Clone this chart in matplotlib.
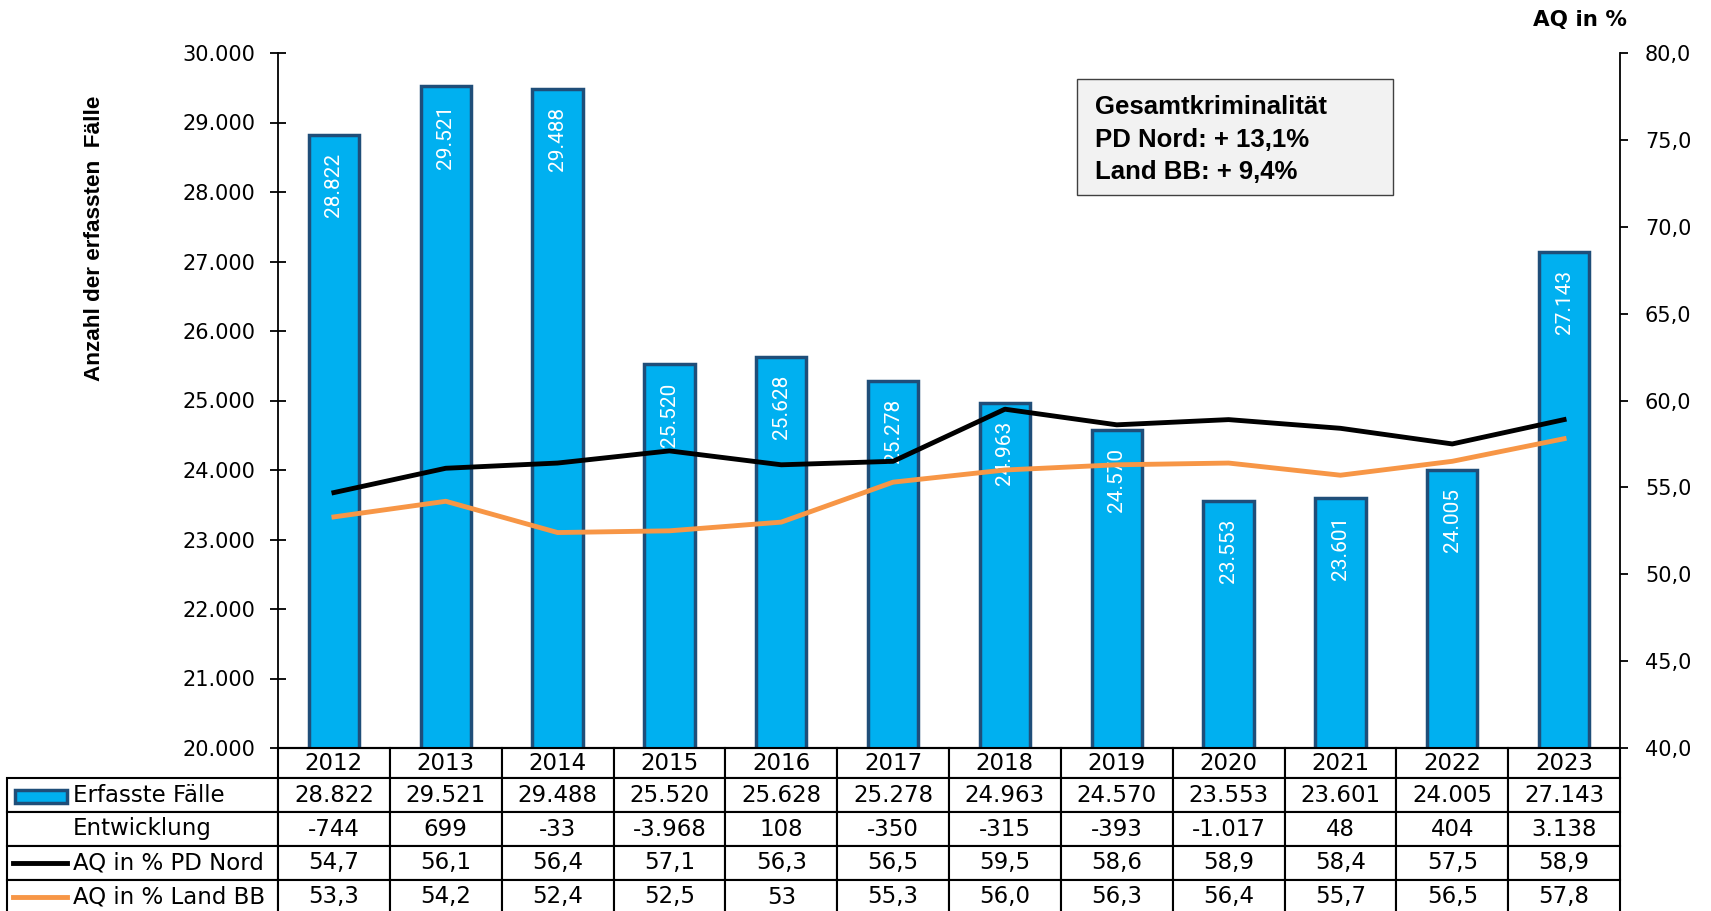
import matplotlib
matplotlib.use("Agg")
import matplotlib.pyplot as plt
from matplotlib.table import Table
from matplotlib.patches import Rectangle
from matplotlib.lines import Line2D
from matplotlib.ticker import FuncFormatter, MultipleLocator

# data
years = [2012, 2013, 2014, 2015, 2016, 2017, 2018, 2019, 2020, 2021, 2022, 2023]
faelle = [28822, 29521, 29488, 25520, 25628, 25278, 24963, 24570, 23553, 23601, 24005, 27143]
entwicklung = [-744, 699, -33, -3968, 108, -350, -315, -393, -1017, 48, 404, 3138]
aq_nord = [54.7, 56.1, 56.4, 57.1, 56.3, 56.5, 59.5, 58.6, 58.9, 58.4, 57.5, 58.9]
aq_land = [53.3, 54.2, 52.4, 52.5, 53, 55.3, 56.0, 56.3, 56.4, 55.7, 56.5, 57.8]
box_lines = ["Gesamtkriminalität", "PD Nord: + 13,1%", "Land BB: + 9,4%"]

BAR_BLUE = "#00B0F0"
BAR_EDGE = "#1F4E79"
ORANGE = "#F79646"

plt.rcParams["font.family"] = ["DejaVu Sans"]


def fmt_int(v):
    return f"{v:,}".replace(",", ".")


def fmt_pct(v):
    # values given without decimals in the source table stay that way
    if isinstance(v, int):
        return str(v)
    return f"{v:.1f}".replace(".", ",")


W, H = 1711, 911
fig = plt.figure(figsize=(W / 100, H / 100), dpi=100)

# plot area in pixels
L, R, T, B = 278, 1620, 53, 748
ax = fig.add_axes([L / W, 1 - B / H, (R - L) / W, (B - T) / H])
ax2 = ax.twinx()


def px_ax(xp, yp):
    return (xp - L) / (R - L), (B - yp) / (B - T)


x = list(range(len(years)))
ax.bar(x, faelle, width=0.45, color=BAR_BLUE, edgecolor=BAR_EDGE,
       linewidth=2.5, zorder=2)
ax.set_xlim(-0.5, len(years) - 0.5)
ax.set_ylim(20000, 30000)
ax.yaxis.set_major_locator(MultipleLocator(1000))
ax.yaxis.set_major_formatter(FuncFormatter(lambda v, p: fmt_int(int(v))))
ax.set_xticks([])
ax.tick_params(axis="y", direction="inout", length=11, width=1.3,
               labelsize=15, pad=11)
for s in ["top", "right"]:
    ax.spines[s].set_visible(False)
ax.spines["left"].set_linewidth(1.3)
ax.spines["bottom"].set_linewidth(1.5)

for xi, v in zip(x, faelle):
    ax.annotate(fmt_int(v), (xi, v), xytext=(0, -13), textcoords="offset points",
                rotation=90, ha="center", va="top", color="white",
                fontsize=15, family="Roboto", zorder=3)

# percentage lines on the right axis
ax2.plot(x, aq_nord, color="black", lw=3.5)
ax2.plot(x, aq_land, color=ORANGE, lw=3.5)
ax2.set_ylim(40, 80)
ax2.yaxis.set_major_locator(MultipleLocator(5))
ax2.yaxis.set_major_formatter(FuncFormatter(lambda v, p: fmt_pct(float(v))))
ax2.tick_params(axis="y", direction="out", length=6, width=1.3,
                labelsize=15, pad=12)
for s in ["top", "left", "bottom"]:
    ax2.spines[s].set_visible(False)
ax2.spines["right"].set_linewidth(1.3)

# data table below the chart
tab_left, tab_bottom = 7, 914
x0, y0 = px_ax(tab_left, tab_bottom)
tab = Table(ax, bbox=[x0, y0, 1 - x0, -y0])
lab_w = L - tab_left
col_w = (R - L) / len(years)
rows = [
    ("Erfasste Fälle", [fmt_int(v) for v in faelle]),
    ("Entwicklung", [fmt_int(v) for v in entwicklung]),
    ("AQ in % PD Nord", [fmt_pct(v) for v in aq_nord]),
    ("AQ in % Land BB", [fmt_pct(v) for v in aq_land]),
]
for j, yr in enumerate(years):
    tab.add_cell(0, j + 1, col_w, 30, text=str(yr), loc="center")
for i, (lab, vals) in enumerate(rows, start=1):
    c = tab.add_cell(i, 0, lab_w, 34, text=lab, loc="left")
    c.PAD = 66 / lab_w
    for j, v in enumerate(vals):
        tab.add_cell(i, j + 1, col_w, 34, text=v, loc="center")
tab.auto_set_font_size(False)
tab.set_fontsize(16.5)
for c in tab.get_celld().values():
    c.set_linewidth(1.5)
    c.get_text().set_family("DejaVu Sans")
ax.add_table(tab)

# legend keys in the row labels
rx, ry = px_ax(15, 803)
rx2, ry2 = px_ax(67, 790)
ax.add_patch(Rectangle((rx, ry), rx2 - rx, ry2 - ry, transform=ax.transAxes,
                       facecolor=BAR_BLUE, edgecolor=BAR_EDGE, lw=2.5,
                       clip_on=False))
for yp, col in [(863, "black"), (897, ORANGE)]:
    lx1, ly = px_ax(13, yp)
    lx2, _ = px_ax(67, yp)
    ax.add_line(Line2D([lx1, lx2], [ly, ly], transform=ax.transAxes,
                       color=col, lw=3.5, clip_on=False))

# axis titles
fig.text(95 / W, 1 - 238 / H, "Anzahl der erfassten  Fälle", rotation=90,
         ha="center", va="center", fontsize=16.2, fontweight="bold",
         family="Liberation Sans")
fig.text(1627 / W, 1 - 20 / H, "AQ in %", ha="right", va="center",
         fontsize=15.5, fontweight="bold")

# info box
fig.patches.append(Rectangle((1077 / W, 1 - 195 / H), (1393 - 1077) / W,
                             (195 - 79) / H, transform=fig.transFigure,
                             facecolor="#F2F2F2", edgecolor="#404040", lw=1))
for yp, line in zip([107, 140, 172], box_lines):
    fig.text(1095 / W, 1 - yp / H, line, ha="left", va="center",
             fontsize=18.5, fontweight="bold", family="Liberation Sans")

fig.savefig("out.png", dpi=100)
